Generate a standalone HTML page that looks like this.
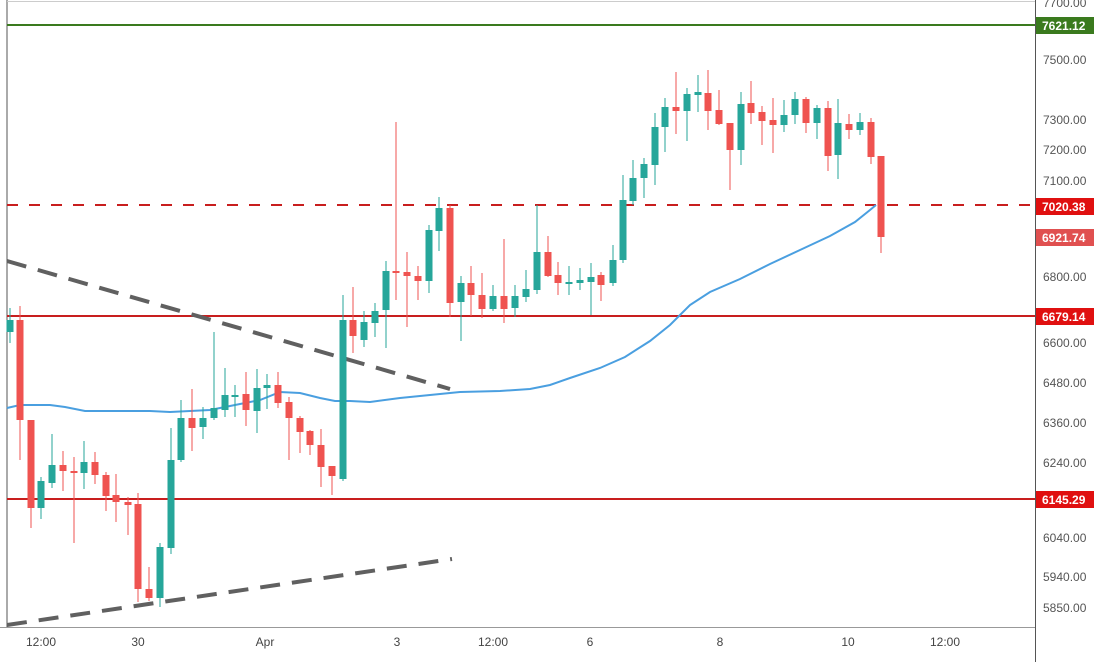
<!DOCTYPE html>
<html><head><meta charset="utf-8"><style>
html,body{margin:0;padding:0;background:#fff}
svg text{font-family:"Liberation Sans",sans-serif;font-size:12px}
</style></head><body>
<svg width="1108" height="662" viewBox="0 0 1108 662" xmlns="http://www.w3.org/2000/svg">
<rect width="1108" height="662" fill="#fff"/>
<line x1="7" y1="0" x2="7" y2="627" stroke="#555" stroke-width="1"/>
<line x1="1035.5" y1="0" x2="1035.5" y2="662" stroke="#555" stroke-width="1"/>
<line x1="0" y1="627.5" x2="1035" y2="627.5" stroke="#999" stroke-width="1"/>
<line x1="7" y1="1.5" x2="1035" y2="1.5" stroke="#ccc" stroke-width="1"/>
<line x1="7" y1="25" x2="1035" y2="25" stroke="#3a7a1e" stroke-width="2"/>
<line x1="7" y1="205" x2="1035" y2="205" stroke="#c81e1e" stroke-width="2" stroke-dasharray="11,11"/>
<line x1="7" y1="316" x2="1035" y2="316" stroke="#c81e1e" stroke-width="2"/>
<line x1="7" y1="499" x2="1035" y2="499" stroke="#c81e1e" stroke-width="2"/>
<line x1="7" y1="261" x2="450" y2="389" stroke="#606060" stroke-width="4" stroke-dasharray="20,12"/>
<line x1="7" y1="625" x2="452" y2="559" stroke="#606060" stroke-width="4" stroke-dasharray="20,12"/>
<polyline fill="none" stroke="#4a9fe0" stroke-width="2" points="7,408 20,405 50,405 65,407 85,411 150,411 170,412 190,411 210,410 230,406 260,400 280,392 300,393 320,398 335,401 350,401 370,402 400,398 430,395 460,392 500,391 530,389 550,385 570,378 600,368 625,357 650,341 670,325 690,305 710,292 740,279 770,264 800,250 830,236 855,222 870,210 876,205"/>
<g id="c"></g>
<g fill="#555">
<text x="1043" y="7">7700.00</text>
<text x="1043" y="64">7500.00</text>
<text x="1043" y="124">7300.00</text>
<text x="1043" y="154">7200.00</text>
<text x="1043" y="185">7100.00</text>
<text x="1043" y="281">6800.00</text>
<text x="1043" y="347">6600.00</text>
<text x="1043" y="387">6480.00</text>
<text x="1043" y="427">6360.00</text>
<text x="1043" y="467">6240.00</text>
<text x="1043" y="542">6040.00</text>
<text x="1043" y="581">5940.00</text>
<text x="1043" y="612">5850.00</text>
</g>
<g font-weight="bold" fill="#fff">
<rect x="1036" y="17" width="58" height="17" fill="#3a7a1e"/><text x="1042" y="30" fill="#fff">7621.12</text>
<rect x="1036" y="198" width="58" height="17" fill="#e01010"/><text x="1042" y="211" fill="#fff">7020.38</text>
<rect x="1036" y="229" width="58" height="17" fill="#e05050"/><text x="1042" y="242" fill="#fff">6921.74</text>
<rect x="1036" y="308" width="58" height="17" fill="#e01010"/><text x="1042" y="321" fill="#fff">6679.14</text>
<rect x="1036" y="491" width="58" height="17" fill="#e01010"/><text x="1042" y="504" fill="#fff">6145.29</text>
</g>
<g fill="#444" text-anchor="middle">
<text x="41" y="646">12:00</text><text x="138" y="646">30</text><text x="265" y="646">Apr</text>
<text x="397" y="646">3</text><text x="493" y="646">12:00</text><text x="590" y="646">6</text>
<text x="720" y="646">8</text><text x="848" y="646">10</text><text x="945" y="646">12:00</text>
</g>
</svg>
<script>
var d=[[10,'g',320,332,308,343],[20,'r',320,420,306,460],[31,'r',420,508,420,528],[41,'g',481,508,477,519],[52,'g',465,483,434,488],[63,'r',465,471,451,491],[74,'r',471,473,457,543],[84,'g',462,473,441,489],[95,'r',462,475,452,484],[106,'r',475,496,472,511],[116,'r',495,502,474,522],[128,'r',502,505,497,535],[138,'r',504,589,493,602],[149,'r',589,598,567,601],[160,'g',547,598,543,607],[171,'g',460,548,428,554],[181,'g',418,460,400,462],[192,'r',418,428,389,451],[203,'g',418,427,407,439],[214,'g',408,418,332,420],[225,'g',395,410,368,417],[235,'g',395,397,385,417],[246,'r',394,410,372,426],[257,'g',388,411,369,433],[267,'g',385,388,374,409],[278,'r',385,403,372,408],[289,'r',402,418,397,460],[300,'r',418,432,416,453],[310,'r',431,445,430,455],[321,'r',445,467,429,487],[332,'r',466,476,466,495],[343,'g',320,479,295,481],[353,'r',320,336,287,353],[364,'g',322,340,311,347],[375,'g',311,323,303,337],[386,'g',271,310,261,348],[396,'r',271,273,122,300],[407,'r',272,276,252,327],[418,'r',276,281,266,300],[429,'g',230,281,225,293],[439,'g',208,231,197,251],[450,'r',208,303,205,317],[461,'g',283,302,276,341],[471,'r',283,295,266,316],[482,'r',295,309,273,318],[493,'g',296,309,285,311],[504,'r',296,309,239,323],[515,'g',296,308,285,317],[526,'g',289,297,270,302],[537,'g',252,290,205,294],[548,'r',252,276,236,277],[558,'r',275,283,262,295],[569,'g',282,284,266,295],[580,'g',280,283,268,290],[591,'g',277,282,263,315],[601,'r',275,285,272,301],[613,'g',260,283,245,286],[623,'g',200,260,175,263],[633,'g',178,201,160,205],[644,'g',164,178,158,198],[655,'g',127,165,113,185],[665,'g',107,127,98,152],[676,'r',107,111,72,134],[687,'g',94,111,88,141],[698,'g',92,95,75,112],[708,'r',93,111,70,130],[719,'r',110,124,90,125],[730,'r',123,150,123,190],[741,'g',104,150,92,165],[751,'r',103,113,81,124],[762,'r',112,121,106,145],[773,'r',120,125,98,153],[784,'g',115,125,100,132],[795,'g',99,115,92,124],[806,'r',99,123,97,133],[817,'g',108,123,105,139],[828,'r',108,156,101,171],[838,'g',123,155,99,179],[849,'r',124,130,114,139],[860,'g',122,130,113,135],[871,'r',122,157,118,164],[881,'r',156,237,156,253]];
var g=document.getElementById('c'),s='';
d.forEach(function(c){var col=c[1]=='g'?'#26a69a':'#ef5350';
s+='<line x1="'+c[0]+'" x2="'+c[0]+'" y1="'+c[4]+'" y2="'+c[5]+'" stroke="'+col+'" stroke-width="1"/>';
s+='<rect x="'+(c[0]-3.5)+'" y="'+c[2]+'" width="7" height="'+Math.max(2,c[3]-c[2])+'" fill="'+col+'"/>';});
g.innerHTML=s;
</script>
</body></html>
